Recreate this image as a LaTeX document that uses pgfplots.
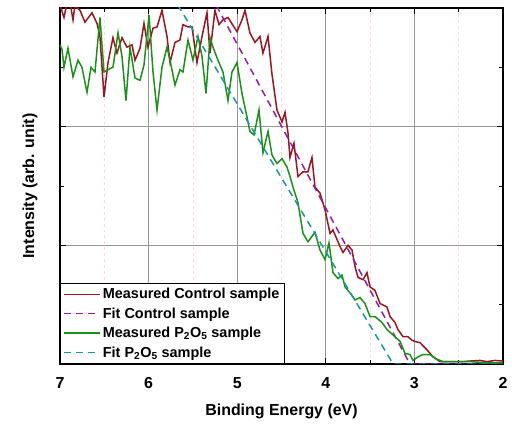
\documentclass[border=0pt]{standalone}
\usepackage{fontspec}
\setmainfont{Liberation Sans}
\usepackage{pgfplots}
\pgfplotsset{compat=1.18}

\definecolor{ctrlred}{RGB}{155,20,30}
\definecolor{fitpurple}{RGB}{145,30,160}
\definecolor{p2o5green}{RGB}{25,145,25}
\definecolor{fitteal}{RGB}{25,150,160}

\begin{document}
\begin{tikzpicture}
\useasboundingbox (-60bp,-61bp) rectangle (452bp,364bp);
\begin{axis}[
  at={(0,0)}, anchor=south west,
  scale only axis,
  width=443bp, height=356bp,
  x dir=reverse,
  xmin=2, xmax=7, ymin=0, ymax=3,
  xtick={2,3,4,5,6,7},
  ytick={0,1,2,3}, yticklabels={},
  minor x tick num=1, minor y tick num=1,
  tick align=inside,
  major tick length=6bp, minor tick length=4bp,
  xtick pos=both, ytick pos=both,
  xmajorgrids, ymajorgrids, xminorgrids,
  major grid style={gray!80, line width=0.6pt},
  minor grid style={red!15, dashed, line width=0.5pt},
  axis line style={line width=1.3pt},
  every tick/.style={black, line width=0.8pt},
  /pgf/number format/assume math mode=true,
  tick label style={font=\fontsize{16}{18}\selectfont\bfseries},
  xticklabel style={yshift=-10bp},
  xlabel={Binding Energy (eV)},
  ylabel={Intensity (arb. unit)},
  label style={font=\fontsize{16}{18}\selectfont\bfseries},
  xlabel style={at={(0.5,0)}, anchor=center, yshift=-47bp},
  ylabel style={at={(0,0.5)}, anchor=center, yshift=30bp},
  legend style={at={(0,0)}, anchor=south west, draw=black, line width=0.8pt,
    fill=white, font=\fontsize{14.5}{16}\selectfont\bfseries,
    row sep=3.5bp, inner xsep=3bp, inner ysep=3bp},
  legend cell align=left,
  legend image code/.code={%
    \draw[mark repeat=2, mark phase=2] plot coordinates {(0bp,0bp) (18bp,0bp) (36bp,0bp)};},
  every axis plot/.append style={line width=1.5pt},
]
\addplot[ctrlred] coordinates {
(7.00,3.03) (6.981,2.98) (6.955,2.92) (6.924,3.03) (6.887,3.05) (6.853,2.90)
(6.831,3.02) (6.774,2.98) (6.718,2.88) (6.639,2.96) (6.582,2.87) (6.549,2.76)
(6.503,2.25) (6.458,2.54) (6.402,2.75) (6.357,2.62) (6.300,2.75) (6.244,2.67)
(6.187,2.69) (6.153,2.56) (6.097,2.66) (6.052,2.87) (6.007,2.67) (5.950,2.83)
(5.905,2.84) (5.849,2.98) (5.792,2.76) (5.758,2.54) (5.702,2.71) (5.646,2.73)
(5.612,2.86) (5.555,2.84) (5.510,2.84) (5.454,2.54) (5.397,2.76) (5.341,2.96)
(5.307,2.62) (5.251,2.98) (5.205,2.86) (5.160,2.90) (5.104,2.92) (5.002,2.80)
(4.946,2.90) (4.912,2.98) (4.856,2.79) (4.799,2.71) (4.743,2.76) (4.709,2.62)
(4.652,2.76) (4.607,2.44) (4.551,2.14) (4.494,2.04) (4.460,2.12) (4.427,1.95)
(4.404,1.74) (4.359,1.86) (4.314,1.58) (4.257,1.62) (4.201,1.62) (4.156,1.74)
(4.122,1.49) (4.065,1.44) (4.009,1.30) (3.952,1.10) (3.919,1.13) (3.840,0.99)
(3.806,0.94) (3.749,1.00) (3.704,0.96) (3.670,0.82) (3.636,0.73) (3.580,0.71)
(3.535,0.77) (3.501,0.65) (3.445,0.62) (3.388,0.51) (3.309,0.48) (3.275,0.40)
(3.219,0.35) (3.185,0.29) (3.129,0.23) (3.072,0.23) (3.027,0.20) (2.993,0.19)
(2.937,0.18) (2.858,0.12) (2.790,0.06) (2.711,0.02) (2.598,0.02) (2.451,0.02)
(2.372,0.025) (2.259,0.03) (2.180,0.02) (2.090,0.03) (2.000,0.025)
};
\addlegendentry{Measured Control sample}
\addplot[fitpurple, dash pattern=on 7bp off 5bp] coordinates {
(5.365,3.2) (3.05,0.0) (2.0,0.0)
};
\addlegendentry{Fit Control sample}
\addplot[p2o5green] coordinates {
(7.00,2.69) (6.977,2.65) (6.955,2.50) (6.910,2.66) (6.853,2.42) (6.797,2.56)
(6.752,2.50) (6.695,2.29) (6.650,2.50) (6.605,2.46) (6.549,2.92) (6.503,2.46)
(6.436,2.49) (6.402,2.50) (6.345,2.79) (6.300,2.59) (6.255,2.22) (6.210,2.67)
(6.153,2.41) (6.097,2.39) (6.052,2.52) (5.995,2.94) (5.950,2.46) (5.905,2.14)
(5.849,2.50) (5.792,2.67) (5.747,2.52) (5.702,2.35) (5.646,2.48) (5.612,2.46)
(5.555,2.73) (5.499,2.56) (5.442,2.76) (5.397,2.59) (5.352,2.28) (5.307,2.75)
(5.273,2.67) (5.217,2.56) (5.160,2.46) (5.104,2.22) (5.059,2.46) (5.002,2.54)
(4.946,2.28) (4.889,2.08) (4.856,1.96) (4.810,1.93) (4.754,2.14) (4.709,1.78)
(4.652,1.96) (4.607,1.76) (4.551,1.69) (4.494,1.73) (4.438,1.66) (4.404,1.58)
(4.370,1.49) (4.314,1.36) (4.257,1.10) (4.201,1.03) (4.122,1.11) (4.065,0.96)
(4.009,0.88) (3.964,1.02) (3.919,0.77) (3.862,0.72) (3.817,0.75) (3.783,0.65)
(3.727,0.60) (3.670,0.54) (3.614,0.56) (3.558,0.51) (3.501,0.40) (3.445,0.40)
(3.366,0.35) (3.309,0.29) (3.219,0.23) (3.162,0.19) (3.106,0.09) (3.050,0.08)
(3.016,0.03) (2.959,0.06) (2.903,0.08) (2.824,0.08) (2.745,0.04) (2.677,0.02)
(2.519,0.02) (2.372,0.02) (2.180,0.01) (2.000,0.01)
};
\addlegendentry{Measured P\textsubscript{2}O\textsubscript{5} sample}
\addplot[fitteal, dash pattern=on 7bp off 5bp] coordinates {
(5.81,3.2) (3.24,0.0) (2.0,0.0)
};
\addlegendentry{Fit P\textsubscript{2}O\textsubscript{5} sample}
\end{axis}
\end{tikzpicture}
\end{document}
